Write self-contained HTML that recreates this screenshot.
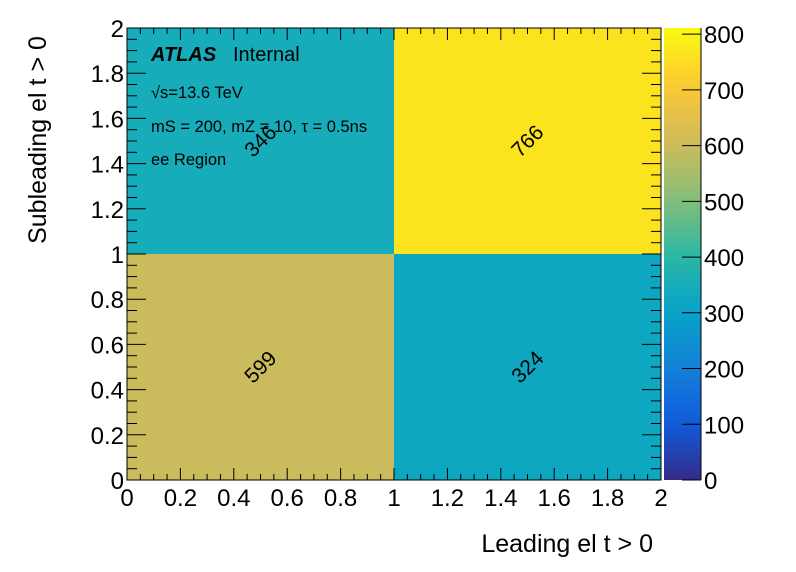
<!DOCTYPE html>
<html><head><meta charset="utf-8"><style>
html,body{margin:0;padding:0;background:#fff;}
svg{display:block;font-family:"Liberation Sans",Arial,sans-serif;}
</style></head><body>
<svg id="chart" width="796" height="572" viewBox="0 0 796 572" xmlns="http://www.w3.org/2000/svg">
<g id="cells"></g>
<g id="cbar"></g>
<g id="axes"></g>
<g>
<text x="151" y="61" font-size="20" font-weight="bold" font-style="italic">ATLAS</text>
<text x="233" y="61" font-size="20">Internal</text>
<text x="151" y="98" font-size="16.5">√s=13.6 TeV</text>
<text x="151" y="132" font-size="16.5">mS = 200, mZ = 10, τ = 0.5ns</text>
<text x="151" y="165" font-size="16.5">ee Region</text>
</g>
<text x="653" y="552" font-size="25" text-anchor="end">Leading el t &gt; 0</text>
<text transform="translate(46,140) rotate(-90)" font-size="25" text-anchor="middle">Subleading el t &gt; 0</text>
</svg>
<script>
const xEdges=[0,1,2];
const yEdges=[0,1,2];
const cellX=[0,1,0,1];
const cellY=[0,0,1,1];
const cellValues=[599,324,346,766];
const xTicks=[0,0.2,0.4,0.6,0.8,1,1.2,1.4,1.6,1.8,2];
const xTickLabels=["0","0.2","0.4","0.6","0.8","1","1.2","1.4","1.6","1.8","2"];
const yTicks=[0,0.2,0.4,0.6,0.8,1,1.2,1.4,1.6,1.8,2];
const yTickLabels=["0","0.2","0.4","0.6","0.8","1","1.2","1.4","1.6","1.8","2"];
const zTicks=[0,100,200,300,400,500,600,700,800];
const zMax=811;

const NS="http://www.w3.org/2000/svg";
const L=127,R=661,T=28,B=480;
const sx=v=>L+(v-0)/(2-0)*(R-L);
const sy=v=>B-(v-0)/(2-0)*(B-T);
const CL=664,CR=701;
const sz=v=>B-v/zMax*(B-T);
const stops=[[0,[0.2082,0.1664,0.5293]],[0.125,[0.0592,0.3599,0.8684]],[0.25,[0.0780,0.5041,0.8385]],[0.375,[0.0232,0.6419,0.7914]],[0.5,[0.1802,0.7178,0.6425]],[0.625,[0.5301,0.7492,0.4662]],[0.75,[0.8186,0.7328,0.3499]],[0.875,[0.9956,0.7862,0.1968]],[1,[0.9764,0.9832,0.0539]]];
function color(f){f=Math.max(0,Math.min(1,f));for(let i=1;i<stops.length;i++){if(f<=stops[i][0]){const a=stops[i-1],b=stops[i];const t=(f-a[0])/(b[0]-a[0]);const c=a[1].map((v,k)=>Math.round(255*(v+(b[1][k]-v)*t)));return `rgb(${c[0]},${c[1]},${c[2]})`;}}return "rgb(249,251,14)";}
function mk(tag,attrs,parent){const e=document.createElementNS(NS,tag);for(const k in attrs)e.setAttribute(k,attrs[k]);parent.appendChild(e);return e;}

const cells=document.getElementById('cells');
cellValues.forEach((v,i)=>{
  const x0=xEdges[cellX[i]],x1=xEdges[cellX[i]+1],y0=yEdges[cellY[i]],y1=yEdges[cellY[i]+1];
  const r=mk('rect',{x:sx(x0),y:sy(y1),width:sx(x1)-sx(x0),height:sy(y0)-sy(y1),fill:color(v/zMax)},cells);
  
  
  const cx=(sx(x0)+sx(x1))/2,cy=(sy(y0)+sy(y1))/2;
  const t=mk('text',{x:cx,y:cy+7,'font-size':21,'text-anchor':'middle',transform:`rotate(-45 ${cx} ${cy})`},cells);
  t.textContent=v;
  
  
});

const cb=document.getElementById('cbar');
const defs=mk('defs',{},cb);
const g=mk('linearGradient',{id:'grad',x1:0,y1:1,x2:0,y2:0},defs);
for(let i=0;i<=20;i++){const f=i/20;mk('stop',{offset:f,'stop-color':color(f)},g);}
const cbr=mk('rect',{x:CL,y:T,width:CR-CL,height:B-T,fill:'url(#grad)'},cb);


zTicks.forEach(z=>{
  const y=sz(z);
  mk('line',{x1:CR-19,x2:CR,y1:y,y2:y,stroke:'#000','stroke-width':1},cb);
  const t=mk('text',{x:CR+3,y:y+9,'font-size':24},cb);
  t.textContent=z;
  
  
});
mk('line',{x1:CR,x2:CR,y1:T,y2:B,stroke:'#000','stroke-width':1},cb);

const ax=document.getElementById('axes');
mk('rect',{x:L,y:T,width:R-L,height:B-T,fill:'none',stroke:'#000','stroke-width':1},ax);
for(let v=0;v<=2.0001;v+=0.05){
  const major=Math.abs(v*5-Math.round(v*5))<1e-6;
  const xl=major?12:6, yl=major?19:10;
  const x=sx(v),y=sy(v);
  mk('line',{x1:x,x2:x,y1:B,y2:B-xl,stroke:'#000'},ax);
  mk('line',{x1:x,x2:x,y1:T,y2:T+xl,stroke:'#000'},ax);
  mk('line',{x1:L,x2:L+yl,y1:y,y2:y,stroke:'#000'},ax);
  mk('line',{x1:R,x2:R-yl,y1:y,y2:y,stroke:'#000'},ax);
}
xTicks.forEach((v,i)=>{
  const t=mk('text',{x:sx(v),y:B+26,'font-size':24,'text-anchor':'middle'},ax);
  t.textContent=xTickLabels[i];
  
  
});
yTicks.forEach((v,i)=>{
  const t=mk('text',{x:L-3,y:sy(v)+9,'font-size':24,'text-anchor':'end'},ax);
  t.textContent=yTickLabels[i];
  
  
});
</script>
</body></html>
